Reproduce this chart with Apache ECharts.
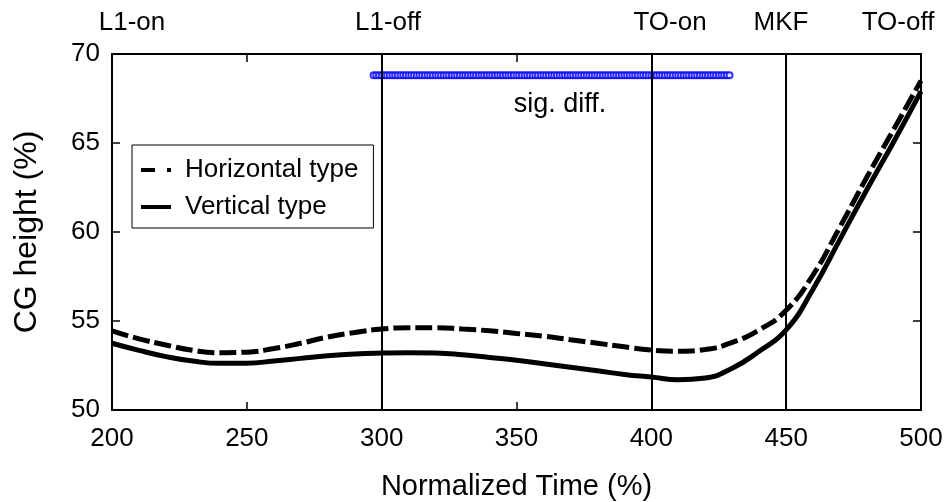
<!DOCTYPE html>
<html>
<head>
<meta charset="utf-8">
<script src="https://cdn.jsdelivr.net/npm/echarts@6/dist/echarts.min.js"></script>
<style>html,body{margin:0;padding:0;background:#fff;}#c{width:944px;height:502px;}</style>
</head>
<body>
<div id="c"></div>
<script>
var times = [200,210,220,230,240,250,260,270,280,290,300,310,320,330,340,350,360,370,380,390,400,410,420,430,440,450,460,470,480,490,500];
var horizontalType = [54.45,54.0,53.65,53.35,53.22,53.25,53.45,53.75,54.1,54.35,54.55,54.62,54.62,54.55,54.45,54.3,54.15,53.95,53.75,53.55,53.37,53.3,53.4,53.8,54.5,55.6,57.6,60.3,63.1,65.8,68.5];
var verticalType = [53.75,53.35,53.0,52.75,52.62,52.63,52.75,52.9,53.05,53.15,53.2,53.22,53.2,53.1,52.95,52.8,52.6,52.4,52.2,52.0,51.85,51.7,51.8,52.35,53.3,54.5,56.8,59.6,62.4,65.1,67.9];
var sigDiffTimes = [297,298,299,300,301,302,303,304,305,306,307,308,309,310,311,312,313,314,315,316,317,318,319,320,321,322,323,324,325,326,327,328,329,330,331,332,333,334,335,336,337,338,339,340,341,342,343,344,345,346,347,348,349,350,351,352,353,354,355,356,357,358,359,360,361,362,363,364,365,366,367,368,369,370,371,372,373,374,375,376,377,378,379,380,381,382,383,384,385,386,387,388,389,390,391,392,393,394,395,396,397,398,399,400,401,402,403,404,405,406,407,408,409,410,411,412,413,414,415,416,417,418,419,420,421,422,423,424,425,426,427,428,429];
var sigDiffLevel = 68.8;
var eventTimes = [300,400,450];
var eventLabels = ['L1-on','L1-off','TO-on','MKF','TO-off'];
var xTicks = [200,250,300,350,400,450,500];
var yTicks = [50,55,60,65,70];

var FONT = '"Liberation Sans", Arial, sans-serif';
var chart = echarts.init(document.getElementById('c'));

function pairs(xs, ys){ return xs.map(function(x,i){ return [x, ys[i]]; }); }

var labelX = [132, 388, 670, 781, 898];
var graphics = eventLabels.map(function(t,i){
  return {type:'text', x:labelX[i], y:23, style:{text:t, font:'26px '+FONT, fill:'#000', textAlign:'center', textVerticalAlign:'middle'}};
});
graphics.push({type:'text', x:560, y:105, style:{text:'sig. diff.', font:'27px '+FONT, fill:'#000', textAlign:'center', textVerticalAlign:'middle'}});

chart.setOption({
  animation:false,
  backgroundColor:'#fff',
  textStyle:{fontFamily:FONT},
  grid:{left:112, right:23, top:54, bottom:92, show:false, containLabel:false, outerBoundsMode:'none'},
  graphic:graphics,
  legend:{
    orient:'vertical', left:132, top:145,
    data:[
      {name:'Horizontal type', icon:'path://M0,0h14v4h-14zM26,0h4v4h-4z'},
      {name:'Vertical type', icon:'path://M0,0h30v4h-30z'}
    ],
    borderColor:'#000', borderWidth:1, padding:[12,15,8,9], itemGap:11,
    itemWidth:30, itemHeight:14,
    textStyle:{fontSize:26, color:'#000', fontFamily:FONT, padding:[0,0,0,9]}
  },
  xAxis:[{
    type:'value', min:200, max:500, interval:50, position:'bottom',
    name:'Normalized Time (%)', nameLocation:'middle', nameGap:62,
    nameTextStyle:{fontSize:29, color:'#000', fontFamily:FONT},
    axisLine:{show:true, lineStyle:{color:'#000', width:2}},
    axisTick:{show:true, inside:true, length:8, lineStyle:{color:'#000', width:1.5}},
    axisLabel:{fontSize:26, color:'#000', margin:16, fontFamily:FONT},
    splitLine:{show:false}
  },{
    type:'value', min:200, max:500, interval:50, position:'top',
    axisLine:{show:true, lineStyle:{color:'#000', width:2}},
    axisTick:{show:true, inside:true, length:8, lineStyle:{color:'#000', width:1.5}},
    axisLabel:{show:false}, splitLine:{show:false}
  }],
  yAxis:[{
    type:'value', min:50, max:70, interval:5, position:'left',
    name:'CG height (%)', nameLocation:'middle', nameGap:69, nameRotate:90,
    nameTextStyle:{fontSize:32, color:'#000', fontFamily:FONT},
    axisLine:{show:true, lineStyle:{color:'#000', width:2}},
    axisTick:{show:true, inside:true, length:8, lineStyle:{color:'#000', width:1.5}},
    axisLabel:{fontSize:26, color:'#000', margin:12, fontFamily:FONT},
    splitLine:{show:false}
  },{
    type:'value', min:50, max:70, interval:5, position:'right',
    axisLine:{show:true, lineStyle:{color:'#000', width:2}},
    axisTick:{show:true, inside:true, length:8, lineStyle:{color:'#000', width:1.5}},
    axisLabel:{show:false}, splitLine:{show:false}
  }],
  series:[
    {
      name:'Horizontal type', type:'line', smooth:true, showSymbol:false, symbol:'none',
      data:pairs(times, horizontalType),
      lineStyle:{color:'#000', width:5, type:[17,5]}, itemStyle:{color:'#000'},
      z:3
    },
    {
      name:'Vertical type', type:'line', smooth:true, showSymbol:false, symbol:'none',
      data:pairs(times, verticalType),
      lineStyle:{color:'#000', width:5, type:'solid'}, itemStyle:{color:'#000'},
      z:3,
      markLine:{
        silent:true, symbol:['none','none'], label:{show:false},
        lineStyle:{color:'#000', width:2, type:'solid'},
        data:eventTimes.map(function(t){ return {xAxis:t}; })
      }
    },
    {
      name:'sig. diff.', type:'scatter', symbol:'emptyCircle', symbolSize:6,
      data:sigDiffTimes.map(function(t){ return [t, sigDiffLevel]; }),
      itemStyle:{color:'#0000ff', borderColor:'#0000ff', borderWidth:1},
      z:4
    }
  ]
});
</script>
</body>
</html>
